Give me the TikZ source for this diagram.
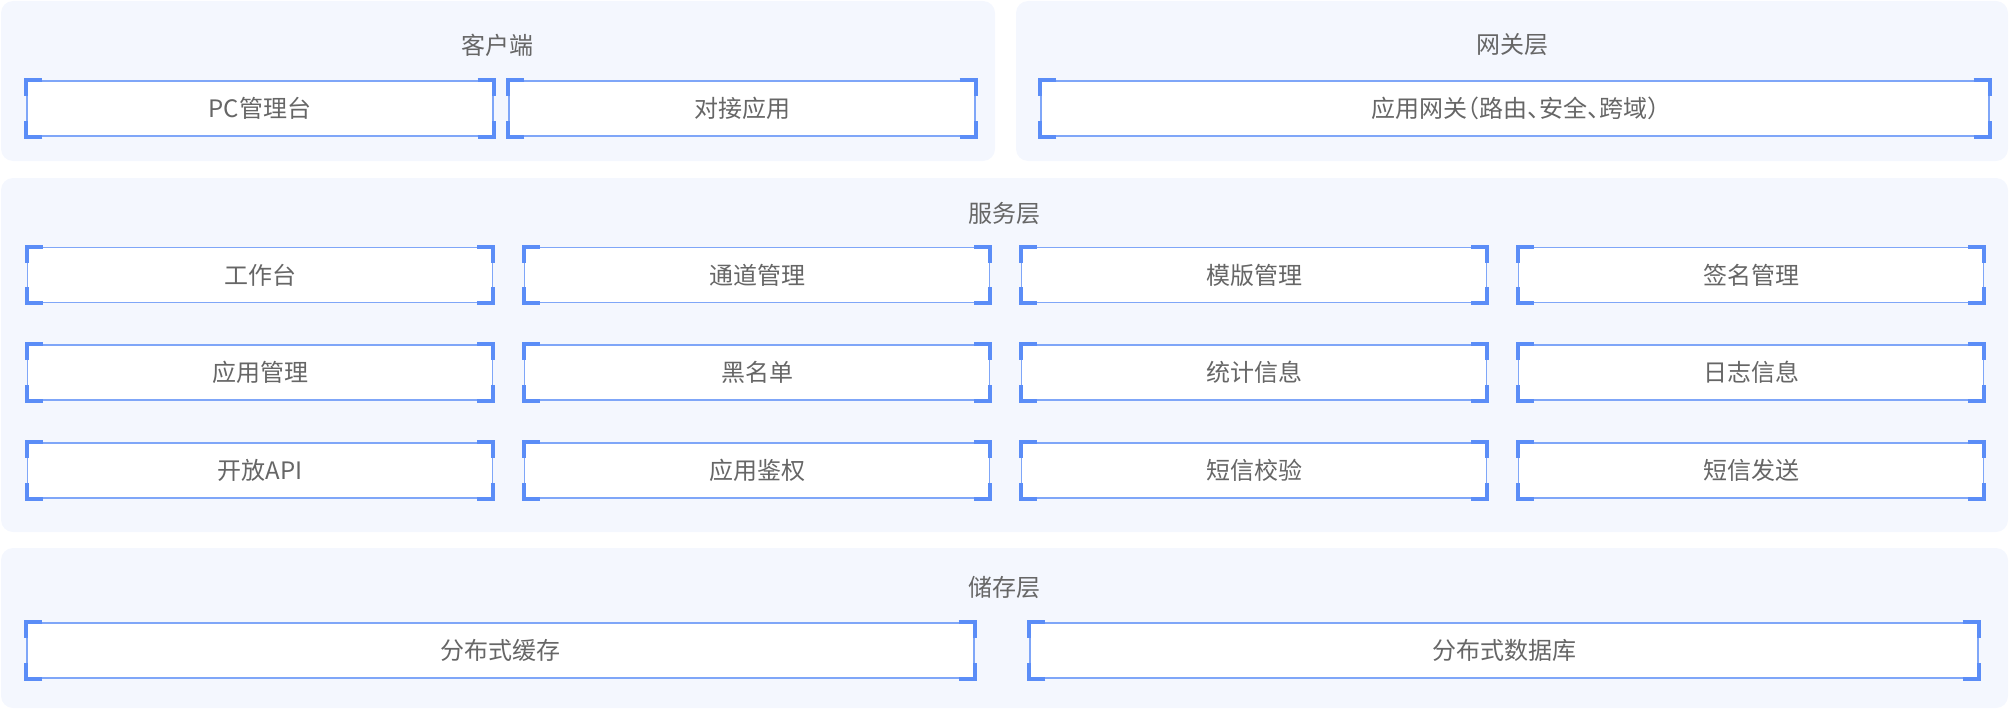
\documentclass[tikz,border=0pt]{standalone}
\usepackage{fontspec}
\setmainfont{Noto Sans CJK SC}
\newfontfamily\halfpunct[RawFeature=+halt]{Noto Sans CJK SC}
\definecolor{panelbg}{HTML}{F4F7FE}
\definecolor{boxline}{HTML}{7FA6F8}
\definecolor{cornerblue}{HTML}{5B8DF7}
\definecolor{textgray}{HTML}{666666}
\tikzset{
  panel/.style={fill=panelbg, rounded corners=12pt},
  title/.style={text=textgray, font=\fontsize{24}{28}\selectfont},
  modbox/.style={draw=boxline, line width=1.2pt, fill=white, minimum height=55pt,
    inner sep=0pt, text=textgray, font=\fontsize{24}{28}\selectfont},
  bracket/.style={draw=cornerblue, line width=4pt}
}
\newcommand{\module}[5]{%
  \node[modbox, minimum width=#4pt] (#1) at (#2,#3) {#5};
  \foreach \a/\sx/\sy in {north west/1/-1, north east/-1/-1, south west/1/1, south east/-1/1}
    \draw[bracket] ([xshift=\sx*16pt]#1.\a) -- (#1.\a) -- ([yshift=\sy*16pt]#1.\a);}

\begin{document}
\begin{tikzpicture}[x=1pt, y=-1pt]
    \useasboundingbox (0,0) rectangle (2010,709);
    % layers
    \fill[panel] (1,1) rectangle (995,161);
    \fill[panel] (1016,1) rectangle (2008,161);
    \fill[panel] (1,178) rectangle (2008,532);
    \fill[panel] (1,548) rectangle (2008,708);
    \node[title] (client) at (497.5,45) {客户端};
    \node[title] (gateway) at (1512,45) {网关层};
    \node[title] (service) at (1004.5,213) {服务层};
    \node[title] (storage) at (1004.5,587) {储存层};
    % client + gateway
    \module{pc}{260}{108.5}{466}{PC管理台}
    \module{dock}{742}{108.5}{466}{对接应用}
    \module{gw}{1515}{108.5}{948}{\halfpunct 应用网关（路由、安全、跨域）}
    % services
    \foreach \n/\x/\y/\l in {wb/260/275/工作台, chan/757/275/通道管理, tpl/1254/275/模版管理, sign/1751/275/签名管理,
        app/260/372.5/应用管理, black/757/372.5/黑名单, stat/1254/372.5/统计信息, log/1751/372.5/日志信息,
        api/260/470.5/开放API, auth/757/470.5/应用鉴权, check/1254/470.5/短信校验, send/1751/470.5/短信发送}
      {\module{\n}{\x}{\y}{465}{\l}}
    % storage
    \module{cache}{500.5}{650.5}{947}{分布式缓存}
    \module{db}{1504}{650.5}{948}{分布式数据库}
\end{tikzpicture}
\end{document}
